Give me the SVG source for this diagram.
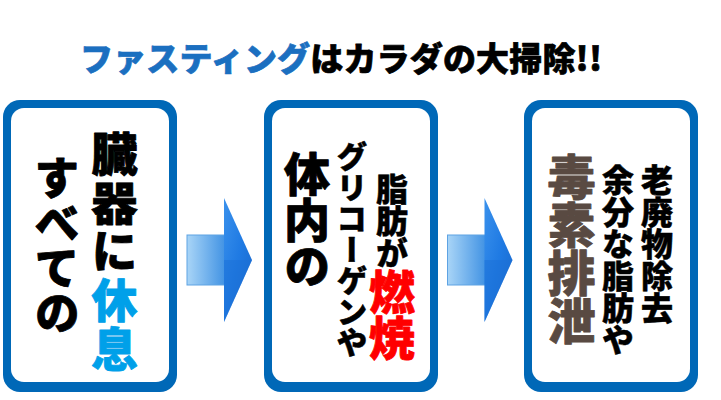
<svg xmlns="http://www.w3.org/2000/svg" width="721" height="400" viewBox="0 0 721 400">
<style>
.t{font-family:"Noto Sans CJK JP","Noto Sans CJK SC",sans-serif;font-weight:900;stroke-linejoin:round;}
.v{writing-mode:vertical-rl;}
.frame{fill:#0068b7;}
.inner{fill:#ffffff;}
.blk{fill:#000000;stroke:#000000;}
.s1{stroke-width:0.5;}
.s2{stroke-width:0.8;}
</style>
<defs>
<linearGradient id="body" x1="0" y1="0" x2="1" y2="0">
<stop offset="0" stop-color="#a9d5f7"/>
<stop offset="1" stop-color="#3f91e3"/>
</linearGradient>
<linearGradient id="head" x1="0" y1="0" x2="1" y2="1">
<stop offset="0" stop-color="#3a91ec"/>
<stop offset="0.5" stop-color="#1f7ae3"/>
<stop offset="1" stop-color="#1a66c8"/>
</linearGradient>
<g id="arrow">
<rect x="187" y="235" width="39" height="50" fill="url(#body)" stroke="#5ea3e3" stroke-width="1"/>
<polygon points="224,198 252,260 224,322" fill="url(#head)"/>
<polygon points="224,260 252,260 224,322" fill="#1c70d6" opacity="0.5"/>
</g>
</defs>
<text class="t" x="80" y="71" font-size="33" stroke-width="0.7" textLength="522" lengthAdjust="spacing"><tspan fill="#1b6fc0" stroke="#1b6fc0">ファスティング</tspan><tspan class="blk">はカラダの大掃除!!</tspan></text>
<g id="connectors">
<use href="#arrow"/>
<use href="#arrow" x="260.5"/>
</g>
<g id="node1">
<rect class="frame" x="3" y="100" width="174" height="292" rx="17"/>
<rect class="inner" x="11" y="108" width="158" height="274" rx="13"/>
<text class="t v s2" x="114.5" y="131" font-size="46" letter-spacing="2.5"><tspan class="blk">臓器に</tspan><tspan fill="#00a0e9" stroke="#00a0e9">休息</tspan></text>
<text class="t v blk s2" x="57" y="155" font-size="45">すべての</text>
</g>
<g id="node2">
<rect class="frame" x="264" y="100" width="174" height="292" rx="17"/>
<rect class="inner" x="272" y="108" width="158" height="274" rx="13"/>
<text class="t v blk s2" x="307" y="151" font-size="46">体内の</text>
<text class="t v blk s1" x="352" y="141" font-size="31">グリコーゲンや</text>
<text class="t v s1" x="392" y="173"><tspan class="blk" font-size="32">脂肪が</tspan><tspan fill="#ff0000" stroke="#ff0000" stroke-width="0.8" font-size="46">燃焼</tspan></text>
</g>
<g id="node3">
<rect class="frame" x="524" y="100" width="174" height="292" rx="17"/>
<rect class="inner" x="532" y="108" width="158" height="274" rx="13"/>
<text class="t v s2" x="571.5" y="153" font-size="48" fill="#594a42" stroke="#594a42">毒素排泄</text>
<text class="t v blk s1" x="618" y="164" font-size="32">余分な脂肪や</text>
<text class="t v blk s1" x="657" y="164" font-size="32">老廃物除去</text>
</g>
</svg>
